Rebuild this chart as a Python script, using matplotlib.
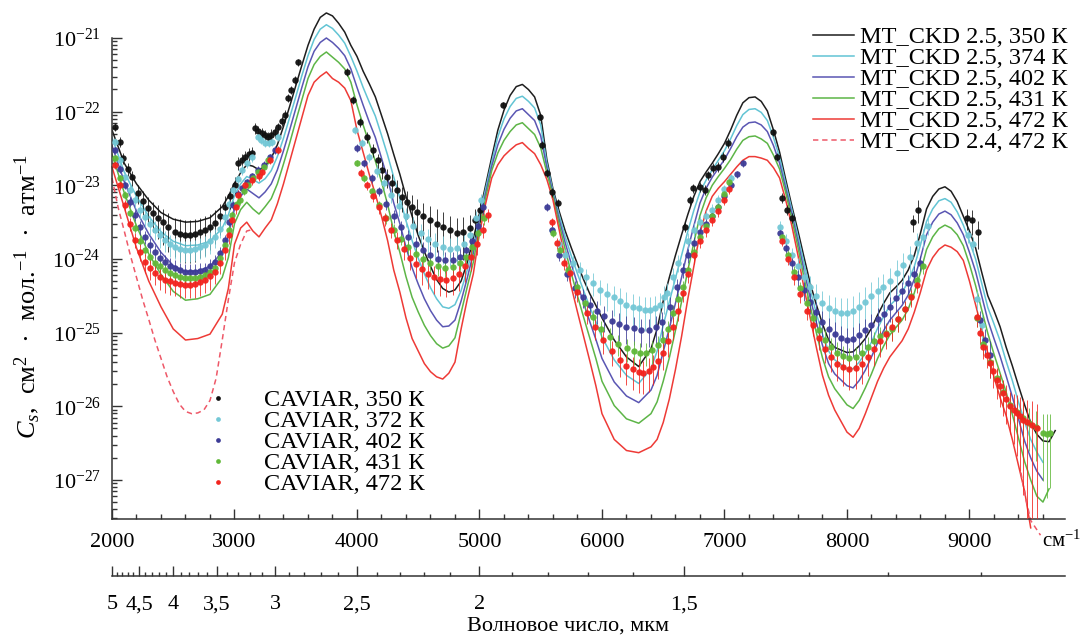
import numpy as np
import matplotlib
matplotlib.use('Agg')
import matplotlib.pyplot as plt
from matplotlib.lines import Line2D
from matplotlib.ticker import FixedLocator, FuncFormatter, NullFormatter

plt.rcParams['font.family'] = ['Liberation Serif', 'DejaVu Serif']
plt.rcParams['mathtext.fontset'] = 'custom'
plt.rcParams['mathtext.rm'] = 'Liberation Serif'
plt.rcParams['mathtext.it'] = 'Liberation Serif:italic'
plt.rcParams['mathtext.bf'] = 'Liberation Serif:bold'

nan = np.nan

# ---- модельные кривые MT_CKD (log10 C_s) ----
nu_mt = [2000, 2100, 2200, 2300, 2400, 2500, 2600, 2700, 2800, 2900,
         2950, 3000, 3050, 3100, 3150, 3200, 3250, 3300, 3350, 3400,
         3450, 3500, 3550, 3600, 3650, 3700, 3750, 3800, 3850, 3900,
         3950, 4000, 4050, 4100, 4150, 4200, 4250, 4300, 4350, 4400,
         4450, 4500, 4550, 4600, 4650, 4700, 4750, 4800, 4850, 4900,
         4950, 5000, 5050, 5100, 5150, 5200, 5250, 5300, 5350, 5400,
         5450, 5500, 5550, 5600, 5650, 5700, 5750, 5800, 5850, 5900,
         5950, 6000, 6100, 6200, 6300, 6400, 6450, 6500, 6550, 6600,
         6650, 6700, 6750, 6800, 6850, 6900, 6950, 7000, 7050, 7100,
         7150, 7200, 7250, 7300, 7350, 7400, 7450, 7500, 7550, 7600,
         7650, 7700, 7750, 7800, 7850, 7900, 8000, 8050, 8100, 8150,
         8200, 8250, 8300, 8350, 8400, 8450, 8500, 8550, 8600, 8650,
         8700, 8750, 8800, 8850, 8900, 8950, 9000, 9050, 9100, 9150,
         9200, 9250, 9300, 9350, 9400, 9450, 9500, 9550, 9600, 9650,
         9700]

ckd350 = [-22.25, -22.70, -22.98, -23.20, -23.37, -23.46, -23.50, -23.49, -23.44, -23.29,
          -23.15, -22.97, -22.83, -22.72, -22.74, -22.79, -22.74, -22.63, -22.45, -22.20,
          -21.93, -21.65, -21.37, -21.10, -20.88, -20.72, -20.66, -20.70, -20.80, -20.92,
          -21.10, -21.25, -21.45, -21.62, -21.80, -22.05, -22.30, -22.58, -22.85, -23.15,
          -23.42, -23.68, -23.90, -24.10, -24.28, -24.40, -24.45, -24.42, -24.30, -24.05,
          -23.72, -23.38, -23.00, -22.62, -22.25, -21.98, -21.78, -21.66, -21.63, -21.70,
          -21.80, -22.05, -22.65, -23.05, -23.35, -23.62, -23.85, -24.07, -24.28, -24.47,
          -24.63, -24.80, -25.10, -25.33, -25.46, -25.22, -24.95, -24.57, -24.25, -23.95,
          -23.67, -23.40, -23.15, -22.95, -22.82, -22.70, -22.57, -22.43, -22.25, -22.05,
          -21.88, -21.81, -21.80, -21.86, -21.99, -22.25, -22.55, -22.92, -23.28, -23.62,
          -23.98, -24.33, -24.62, -24.88, -25.10, -25.20, -25.27, -25.26, -25.18, -25.08,
          -24.94, -24.76, -24.60, -24.46, -24.38, -24.29, -24.15, -23.95, -23.65, -23.32,
          -23.15, -23.05, -23.02, -23.08, -23.22, -23.42, -23.62, -23.85, -24.18, -24.50,
          -24.70, -24.92, -25.20, -25.45, -25.72, -25.98, -26.22, -26.38, -26.47, -26.48,
          -26.33]

ckd374 = [-22.35, -22.82, -23.15, -23.42, -23.63, -23.76, -23.82, -23.81, -23.76, -23.58,
          -23.40, -23.14, -22.98, -22.88, -22.92, -22.97, -22.91, -22.80, -22.61, -22.36,
          -22.08, -21.80, -21.51, -21.24, -21.02, -20.88, -20.82, -20.87, -20.96, -21.07,
          -21.25, -21.45, -21.67, -21.87, -22.06, -22.32, -22.59, -22.89, -23.17, -23.48,
          -23.75, -23.99, -24.20, -24.39, -24.54, -24.65, -24.67, -24.62, -24.43, -24.15,
          -23.82, -23.43, -23.05, -22.68, -22.34, -22.10, -21.93, -21.82, -21.79, -21.86,
          -21.95, -22.18, -22.70, -23.08, -23.40, -23.70, -23.96, -24.20, -24.43, -24.65,
          -24.85, -25.06, -25.37, -25.58, -25.69, -25.49, -25.25, -24.90, -24.58, -24.26,
          -23.95, -23.63, -23.34, -23.09, -22.93, -22.79, -22.66, -22.53, -22.37, -22.19,
          -22.04, -21.97, -21.96, -22.01, -22.12, -22.35, -22.62, -22.98, -23.33, -23.69,
          -24.06, -24.42, -24.74, -25.02, -25.25, -25.37, -25.49, -25.49, -25.40, -25.28,
          -25.13, -24.94, -24.78, -24.63, -24.55, -24.45, -24.31, -24.10, -23.81, -23.49,
          -23.32, -23.21, -23.18, -23.23, -23.36, -23.54, -23.76, -24.00, -24.33, -24.66,
          -24.88, -25.11, -25.39, -25.65, -25.94, -26.21, -26.45, -26.62, -26.76, nan,
          nan]

ckd402 = [-22.46, -22.95, -23.35, -23.66, -23.91, -24.09, -24.17, -24.16, -24.10, -23.90,
          -23.68, -23.32, -23.15, -23.05, -23.11, -23.17, -23.09, -22.98, -22.79, -22.53,
          -22.25, -21.96, -21.67, -21.39, -21.18, -21.06, -21.00, -21.06, -21.14, -21.24,
          -21.42, -21.67, -21.91, -22.14, -22.35, -22.63, -22.91, -23.24, -23.52, -23.84,
          -24.12, -24.34, -24.54, -24.70, -24.83, -24.92, -24.91, -24.83, -24.57, -24.26,
          -23.92, -23.49, -23.11, -22.74, -22.45, -22.24, -22.09, -21.99, -21.96, -22.04,
          -22.12, -22.33, -22.76, -23.11, -23.46, -23.78, -24.07, -24.34, -24.60, -24.85,
          -25.09, -25.35, -25.67, -25.86, -25.95, -25.78, -25.58, -25.26, -24.94, -24.60,
          -24.25, -23.88, -23.55, -23.24, -23.04, -22.89, -22.77, -22.65, -22.50, -22.34,
          -22.21, -22.15, -22.14, -22.18, -22.27, -22.46, -22.70, -23.04, -23.39, -23.76,
          -24.16, -24.53, -24.86, -25.17, -25.42, -25.56, -25.72, -25.75, -25.65, -25.51,
          -25.33, -25.14, -24.97, -24.83, -24.73, -24.63, -24.49, -24.27, -23.99, -23.67,
          -23.50, -23.39, -23.35, -23.40, -23.51, -23.67, -23.91, -24.17, -24.50, -24.83,
          -25.08, -25.32, -25.59, -25.87, -26.17, -26.47, -26.70, -26.88, -27.00, nan,
          nan]

ckd431 = [-22.58, -23.10, -23.55, -23.93, -24.21, -24.44, -24.56, -24.54, -24.48, -24.25,
          -23.98, -23.52, -23.33, -23.23, -23.32, -23.39, -23.29, -23.18, -22.98, -22.71,
          -22.43, -22.13, -21.84, -21.55, -21.36, -21.25, -21.19, -21.26, -21.33, -21.42,
          -21.60, -21.91, -22.18, -22.43, -22.67, -22.95, -23.26, -23.62, -23.91, -24.24,
          -24.52, -24.72, -24.90, -25.04, -25.15, -25.21, -25.18, -25.07, -24.73, -24.38,
          -24.04, -23.56, -23.17, -22.80, -22.56, -22.39, -22.27, -22.18, -22.15, -22.23,
          -22.31, -22.49, -22.83, -23.15, -23.52, -23.87, -24.20, -24.50, -24.79, -25.07,
          -25.35, -25.66, -25.99, -26.17, -26.23, -26.10, -25.94, -25.66, -25.34, -24.97,
          -24.58, -24.16, -23.78, -23.41, -23.17, -23.00, -22.88, -22.77, -22.65, -22.51,
          -22.39, -22.34, -22.33, -22.37, -22.43, -22.59, -22.78, -23.10, -23.46, -23.84,
          -24.26, -24.64, -25.00, -25.34, -25.60, -25.76, -25.98, -26.03, -25.92, -25.75,
          -25.56, -25.35, -25.18, -25.03, -24.93, -24.83, -24.68, -24.46, -24.18, -23.87,
          -23.70, -23.59, -23.54, -23.58, -23.67, -23.82, -24.07, -24.36, -24.69, -25.01,
          -25.29, -25.55, -25.81, -26.11, -26.43, -26.75, -27.00, -27.22, -27.30, -27.12,
          nan]

ckd472 = [-22.75, -23.30, -23.85, -24.30, -24.65, -24.95, -25.10, -25.08, -25.02, -24.75,
          -24.40, -23.80, -23.58, -23.50, -23.62, -23.70, -23.58, -23.47, -23.25, -22.98,
          -22.68, -22.38, -22.08, -21.78, -21.60, -21.52, -21.46, -21.55, -21.60, -21.68,
          -21.85, -22.25, -22.55, -22.85, -23.12, -23.42, -23.75, -24.15, -24.45, -24.80,
          -25.08, -25.25, -25.42, -25.53, -25.60, -25.63, -25.55, -25.40, -24.95, -24.55,
          -24.20, -23.65, -23.25, -22.90, -22.72, -22.60, -22.52, -22.45, -22.42, -22.50,
          -22.57, -22.72, -22.92, -23.20, -23.60, -24.00, -24.38, -24.72, -25.05, -25.38,
          -25.72, -26.10, -26.45, -26.60, -26.63, -26.55, -26.45, -26.22, -25.90, -25.50,
          -25.05, -24.55, -24.10, -23.65, -23.35, -23.15, -23.04, -22.95, -22.85, -22.75,
          -22.66, -22.61, -22.61, -22.63, -22.66, -22.76, -22.90, -23.20, -23.55, -23.95,
          -24.40, -24.80, -25.20, -25.58, -25.85, -26.05, -26.35, -26.42, -26.30, -26.10,
          -25.88, -25.66, -25.48, -25.33, -25.22, -25.11, -24.95, -24.72, -24.45, -24.15,
          -23.98, -23.87, -23.81, -23.84, -23.90, -24.02, -24.30, -24.62, -24.95, -25.28,
          -25.60, -25.88, -26.13, -26.45, -26.80, -27.15, -27.65, nan, nan, nan,
          nan]

nu_ckd24 = [2000, 2050, 2100, 2150, 2200, 2250, 2300, 2350, 2400, 2450, 2500, 2550,
            2600, 2650, 2700, 2750, 2800, 2850, 2900, 2950, 3000, 3050, 3100, 3150,
            nan, 9420, 9460, 9500, 9580]
ckd24_472 = [-22.90, -23.30, -23.62, -23.95, -24.25, -24.55, -24.82, -25.10, -25.35, -25.60,
             -25.80, -25.97, -26.07, -26.10, -26.09, -26.05, -25.92, -25.62, -25.10, -24.55,
             -24.05, -23.80, -23.62, -23.60, nan, -26.90, -27.25, -27.55, -27.75]

ckd_temps = [350, 374, 402, 431, 472]

# ---- измерения CAVIAR: волновое число, log10 C_s, полуширина ошибки вверх (в декадах) ----
cav350_nu = ([2024, 2065, 2090, 2130, 2163, 2212, 2250, 2294, 2335, 2376,
              2415, 2457, 2514, 2555, 2596, 2637, 2678, 2720, 2759, 2800,
              2841, 2880, 2922, 2960, 3004, 3029, 3060, 3086, 3115, 3143,
              3167, 3195, 3224, 3250, 3273, 3300, 3330, 3355, 3385, 3412,
              3437, 3465, 3494, 3518]
             + [3918, 3967, 4024, 4082, 4131, 4171, 4204, 4245, 4286, 4327,
                4367, 4408, 4449, 4490, 4539, 4596, 4653, 4702, 4759, 4816,
                4865, 4922, 4963, 5004]
             + [5192, 5494, 5510, 5551, 5592, 5641]
             + [6677, 6718, 6743, 6800, 6841, 6865, 6906, 6947, 6988, 7029,
                7396, 7429, 7469, 7510, 7551]
             + [8539, 8580, 8980, 9020, 9069])
cav350_lg = ([-22.21, -22.41, -22.63, -22.78, -22.89, -23.10, -23.21, -23.31, -23.38, -23.44,
              -23.50, -23.56, -23.63, -23.66, -23.67, -23.67, -23.66, -23.64, -23.61, -23.57,
              -23.51, -23.42, -23.29, -23.15, -22.99, -22.70, -22.65, -22.61, -22.58, -22.56,
              -22.22, -22.26, -22.29, -22.32, -22.34, -22.31, -22.28, -22.21, -22.12, -22.04,
              -21.81, -21.70, -21.57, -21.33]
             + [-21.46, -21.84, -22.14, -22.34, -22.52, -22.66, -22.79, -22.89, -22.97, -23.06,
                -23.16, -23.23, -23.29, -23.36, -23.42, -23.47, -23.52, -23.56, -23.61, -23.65,
                -23.63, -23.58, -23.47, -23.33]
             + [-21.91, -22.07, -22.45, -22.83, -23.09, -23.24]
             + [-23.56, -23.20, -23.04, -23.02, -23.06, -22.86, -22.76, -22.75, -22.61, -22.42,
                -22.28, -22.61, -23.17, -23.33, -23.44]
             + [-23.50, -23.33, -23.44, -23.47, -23.63])
cav350_err = ([0.05, 0.06, 0.07, 0.08, 0.09, 0.11, 0.13, 0.15, 0.16, 0.17,
               0.18, 0.19, 0.19, 0.20, 0.20, 0.20, 0.20, 0.19, 0.19, 0.18,
               0.17, 0.16, 0.14, 0.12, 0.10, 0.08, 0.08, 0.08, 0.08, 0.08,
               0.07, 0.07, 0.07, 0.07, 0.07, 0.07, 0.07, 0.06, 0.06, 0.06,
               0.05, 0.05, 0.05, 0.05]
              + [0.05, 0.05, 0.06, 0.07, 0.08, 0.09, 0.10, 0.11, 0.12, 0.13,
                 0.14, 0.15, 0.16, 0.17, 0.18, 0.19, 0.20, 0.20, 0.20, 0.20,
                 0.20, 0.18, 0.15, 0.12]
              + [0.04, 0.04, 0.05, 0.05, 0.06, 0.06]
              + [0.06, 0.06, 0.06, 0.06, 0.06, 0.06, 0.06, 0.06, 0.06, 0.06,
                 0.05, 0.05, 0.06, 0.06, 0.06]
              + [0.10, 0.13, 0.12, 0.14, 0.15])

cav372_nu = ([2024, 2065, 2106, 2147, 2188, 2229, 2269, 2310, 2351, 2392,
              2433, 2473, 2514, 2555, 2596, 2637, 2678, 2718, 2759, 2800,
              2841, 2882, 2922, 2955, 2988, 3025, 3061, 3102, 3143, 3192,
              3220, 3249, 3278, 3306, 3355]
             + [3980, 4040, 4100, 4160, 4220, 4280, 4340, 4400, 4460, 4520,
                4580, 4640, 4700, 4760, 4820, 4870, 4920, 4970, 5010]
             + [5592, 5650, 5700, 5760, 5820, 5870, 5926, 5983, 6041, 6100,
                6150, 6200, 6253, 6300, 6350, 6392, 6435, 6473, 6510, 6531,
                6580, 6620]
             + [6700, 6750, 6800, 6850, 6900, 6950, 7000, 7050]
             + [7453, 7500, 7550, 7600, 7650, 7700, 7750, 7800, 7850, 7900,
                7950, 8000, 8050, 8100, 8150, 8200, 8250, 8294, 8350, 8408,
                8460, 8514, 8571, 8620, 8660]
             + [8985, 9030, 9060, 9100])
cav372_lg = ([-22.41, -22.66, -22.89, -23.06, -23.20, -23.33, -23.43, -23.52, -23.60, -23.68,
              -23.74, -23.80, -23.84, -23.87, -23.88, -23.88, -23.86, -23.84, -23.81, -23.76,
              -23.70, -23.59, -23.43, -23.25, -23.06, -22.92, -22.79, -22.70, -22.61, -22.34,
              -22.38, -22.42, -22.42, -22.41, -22.34]
             + [-22.25, -22.42, -22.62, -22.80, -22.97, -23.13, -23.28, -23.42, -23.55, -23.65,
                -23.73, -23.80, -23.84, -23.86, -23.85, -23.80, -23.68, -23.45, -23.20]
             + [-23.60, -23.80, -23.95, -24.05, -24.15, -24.25, -24.32, -24.42, -24.47, -24.52,
                -24.57, -24.62, -24.65, -24.67, -24.69, -24.69, -24.67, -24.62, -24.52, -24.46,
                -24.24, -24.05]
             + [-23.75, -23.60, -23.50, -23.42, -23.33, -23.20, -23.05, -22.90]
             + [-23.56, -23.75, -23.95, -24.10, -24.25, -24.38, -24.50, -24.60, -24.67, -24.70,
                -24.73, -24.73, -24.70, -24.65, -24.58, -24.50, -24.44, -24.38, -24.30, -24.19,
                -24.08, -23.97, -23.78, -23.70, -23.55]
             + [-23.68, -23.80, -24.55, -24.90])
cav372_err = ([0.05, 0.06, 0.07, 0.08, 0.09, 0.10, 0.10, 0.11, 0.11, 0.12,
               0.12, 0.12, 0.12, 0.12, 0.12, 0.12, 0.12, 0.12, 0.12, 0.12,
               0.11, 0.10, 0.09, 0.08, 0.07, 0.06, 0.06, 0.06, 0.06, 0.05,
               0.05, 0.05, 0.05, 0.05, 0.05]
              + [0.05, 0.05, 0.06, 0.07, 0.08, 0.09, 0.10, 0.11, 0.12, 0.13,
                 0.14, 0.15, 0.15, 0.15, 0.15, 0.15, 0.13, 0.10, 0.08]
              + [0.06, 0.07, 0.08, 0.10, 0.11, 0.12, 0.13, 0.14, 0.15, 0.16,
                 0.17, 0.17, 0.17, 0.17, 0.17, 0.17, 0.17, 0.16, 0.15, 0.14,
                 0.12, 0.10]
              + [0.10, 0.09, 0.08, 0.08, 0.07, 0.07, 0.06, 0.06]
              + [0.08, 0.09, 0.10, 0.12, 0.13, 0.15, 0.16, 0.17, 0.18, 0.19,
                 0.20, 0.20, 0.20, 0.20, 0.20, 0.19, 0.19, 0.18, 0.18, 0.17,
                 0.16, 0.15, 0.13, 0.11, 0.10]
              + [0.08, 0.10, 0.12, 0.15])

cav402_nu = ([2024, 2065, 2106, 2147, 2188, 2229, 2269, 2310, 2351, 2392,
              2433, 2473, 2514, 2555, 2596, 2637, 2678, 2718, 2759, 2800,
              2841, 2882, 2922, 2955, 2988, 3025, 3061, 3102, 3143, 3192,
              3240, 3290, 3330]
             + [4000, 4060, 4120, 4180, 4240, 4300, 4360, 4420, 4480, 4540,
                4600, 4660, 4720, 4780, 4840, 4890, 4940, 4990, 5030]
             + [5551, 5592, 5650, 5714, 5780, 5845, 5900, 5960, 6020, 6080,
                6140, 6200, 6260, 6320, 6380, 6440, 6490, 6555, 6612, 6661]
             + [6700, 6750, 6800, 6850, 6900, 6950, 7000, 7050, 7100, 7150]
             + [7450, 7500, 7550, 7600, 7650, 7700, 7750, 7800, 7850, 7900,
                7950, 8000, 8050, 8100, 8150, 8200, 8250, 8300, 8350, 8400,
                8450, 8500, 8550, 8600]
             + [9090, 9130, 9170])
cav402_lg = ([-22.52, -22.78, -23.00, -23.22, -23.40, -23.57, -23.70, -23.81, -23.90, -23.98,
              -24.04, -24.09, -24.12, -24.15, -24.17, -24.17, -24.17, -24.16, -24.15, -24.10,
              -24.04, -23.92, -23.74, -23.50, -23.27, -23.12, -23.04, -22.96, -22.88, -22.79,
              -22.72, -22.62, -22.52]
             + [-22.49, -22.70, -22.90, -23.08, -23.25, -23.42, -23.57, -23.70, -23.80, -23.88,
                -23.95, -24.00, -24.02, -24.02, -23.97, -23.88, -23.75, -23.55, -23.30]
             + [-23.29, -23.60, -23.95, -24.20, -24.40, -24.52, -24.62, -24.70, -24.78, -24.84,
                -24.88, -24.92, -24.94, -24.96, -24.96, -24.93, -24.86, -24.65, -24.38, -24.15]
             + [-23.95, -23.78, -23.63, -23.52, -23.42, -23.30, -23.15, -23.00, -22.85, -22.70]
             + [-23.65, -23.85, -24.05, -24.25, -24.42, -24.58, -24.72, -24.85, -24.95, -25.02,
                -25.07, -25.10, -25.08, -25.03, -24.97, -24.90, -24.82, -24.75, -24.65, -24.53,
                -24.43, -24.33, -24.20, -24.05]
             + [-24.83, -25.10, -25.30])
cav402_err = ([0.04, 0.05, 0.05, 0.06, 0.07, 0.08, 0.08, 0.09, 0.09, 0.10,
               0.10, 0.10, 0.10, 0.10, 0.10, 0.10, 0.10, 0.10, 0.10, 0.10,
               0.09, 0.08, 0.07, 0.06, 0.06, 0.05, 0.05, 0.05, 0.05, 0.05,
               0.05, 0.05, 0.05]
              + [0.05, 0.05, 0.06, 0.06, 0.07, 0.08, 0.09, 0.10, 0.10, 0.11,
                 0.12, 0.12, 0.12, 0.12, 0.12, 0.11, 0.10, 0.08, 0.07]
              + [0.05, 0.06, 0.07, 0.08, 0.10, 0.11, 0.12, 0.13, 0.14, 0.15,
                 0.15, 0.15, 0.15, 0.15, 0.15, 0.15, 0.14, 0.13, 0.11, 0.09]
              + [0.08, 0.08, 0.07, 0.07, 0.06, 0.06, 0.06, 0.05, 0.05, 0.05]
              + [0.06, 0.07, 0.08, 0.10, 0.11, 0.12, 0.13, 0.14, 0.15, 0.16,
                 0.16, 0.16, 0.16, 0.16, 0.16, 0.15, 0.15, 0.14, 0.14, 0.13,
                 0.12, 0.11, 0.10, 0.09]
              + [0.12, 0.15, 0.18])

cav431_nu = ([2024, 2065, 2106, 2147, 2188, 2229, 2269, 2310, 2351, 2392,
              2433, 2473, 2514, 2555, 2596, 2637, 2678, 2718, 2759, 2800,
              2841, 2882, 2922, 2955, 2980, 3020, 3045, 3080, 3110, 3150,
              3192, 3240, 3270]
             + [4000, 4060, 4120, 4180, 4240, 4300, 4360, 4420, 4480, 4540,
                4600, 4660, 4720, 4780, 4840, 4890, 4940, 4990, 5040]
             + [5600, 5657, 5720, 5796, 5860, 5926, 5990, 6065, 6130, 6204,
                6260, 6310, 6360, 6410, 6460, 6498, 6540, 6580, 6620, 6661]
             + [6700, 6750, 6800, 6850, 6900, 6950, 7000, 7040]
             + [7470, 7520, 7570, 7620, 7670, 7720, 7770, 7820, 7870, 7920,
                7970, 8020, 8070, 8120, 8170, 8220, 8270, 8320, 8370, 8420,
                8470, 8520, 8571, 8620]
             + [9061, 9110, 9167, 9224, 9273, 9330, 9388, 9437, 9490, 9540,
                9600, 9630, 9657])
cav431_lg = ([-22.63, -22.90, -23.13, -23.37, -23.58, -23.75, -23.88, -23.97, -24.05, -24.10,
              -24.15, -24.19, -24.22, -24.24, -24.26, -24.26, -24.26, -24.24, -24.22, -24.18,
              -24.12, -23.99, -23.81, -23.60, -23.40, -23.25, -23.20, -23.08, -22.99, -22.90,
              -22.82, -22.75, -22.66]
             + [-22.70, -22.90, -23.08, -23.27, -23.45, -23.60, -23.73, -23.84, -23.93, -24.00,
                -24.06, -24.10, -24.12, -24.11, -24.06, -23.97, -23.84, -23.65, -23.45]
             + [-23.65, -23.88, -24.15, -24.38, -24.60, -24.79, -24.95, -25.06, -25.15, -25.21,
                -25.25, -25.27, -25.27, -25.24, -25.17, -25.10, -24.95, -24.73, -24.55, -24.38]
             + [-24.15, -23.90, -23.70, -23.55, -23.42, -23.30, -23.12, -22.95]
             + [-23.70, -23.95, -24.18, -24.40, -24.60, -24.80, -24.97, -25.10, -25.20, -25.27,
                -25.32, -25.35, -25.33, -25.28, -25.20, -25.12, -25.05, -25.00, -24.95, -24.82,
                -24.68, -24.50, -24.28, -24.10]
             + [-24.80, -25.15, -25.40, -25.62, -25.80, -25.98, -26.08, -26.16, -26.22, -26.28,
                -26.36, -26.38, -26.36])
cav431_err = ([0.04, 0.04, 0.05, 0.05, 0.06, 0.06, 0.07, 0.07, 0.07, 0.08,
               0.08, 0.08, 0.08, 0.08, 0.08, 0.08, 0.08, 0.08, 0.08, 0.08,
               0.07, 0.07, 0.06, 0.06, 0.05, 0.05, 0.05, 0.05, 0.05, 0.05,
               0.05, 0.05, 0.05]
              + [0.04, 0.05, 0.05, 0.06, 0.06, 0.07, 0.07, 0.08, 0.08, 0.09,
                 0.09, 0.10, 0.10, 0.10, 0.10, 0.10, 0.09, 0.08, 0.07]
              + [0.05, 0.06, 0.07, 0.08, 0.09, 0.10, 0.11, 0.12, 0.12, 0.13,
                 0.13, 0.13, 0.13, 0.13, 0.13, 0.12, 0.11, 0.10, 0.09, 0.08]
              + [0.08, 0.08, 0.07, 0.07, 0.06, 0.06, 0.06, 0.05]
              + [0.06, 0.07, 0.08, 0.09, 0.10, 0.11, 0.12, 0.13, 0.13, 0.14,
                 0.14, 0.14, 0.14, 0.14, 0.14, 0.13, 0.13, 0.13, 0.12, 0.12,
                 0.11, 0.10, 0.09, 0.08]
              + [0.10, 0.11, 0.12, 0.13, 0.14, 0.16, 0.17, 0.19, 0.20, 0.22,
                 0.25, 0.27, 0.26])

cav472_nu = ([2024, 2065, 2106, 2147, 2188, 2229, 2269, 2310, 2351, 2392,
              2433, 2473, 2514, 2555, 2596, 2637, 2678, 2718, 2759, 2800,
              2841, 2882, 2922, 2955, 2980, 3010, 3029, 3086, 3143, 3200,
              3224, 3290, 3355]
             + [4030, 4080, 4130, 4180, 4230, 4280, 4330, 4380, 4430, 4480,
                4530, 4580, 4630, 4680, 4730, 4780, 4830, 4880, 4930, 4980,
                5030, 5070]
             + [5590, 5633, 5690, 5739, 5800, 5878, 5940, 6008, 6080, 6147,
                6200, 6253, 6300, 6335, 6380, 6416, 6460, 6498, 6540, 6580,
                6620, 6661]
             + [6700, 6750, 6800, 6850, 6900, 6950, 7000, 7040]
             + [7470, 7520, 7570, 7620, 7670, 7720, 7770, 7820, 7870, 7920,
                7970, 8020, 8070, 8120, 8170, 8220, 8270, 8320, 8370, 8420,
                8470, 8520, 8570]
             + [9061, 9085, 9110, 9140, 9167, 9195, 9224, 9250, 9273, 9300,
                9330, 9360, 9388, 9410, 9437, 9470, 9510, 9551])
cav472_lg = ([-22.72, -23.00, -23.27, -23.52, -23.74, -23.90, -24.04, -24.12, -24.19, -24.24,
              -24.28, -24.30, -24.32, -24.34, -24.35, -24.35, -24.34, -24.31, -24.28, -24.23,
              -24.17, -24.05, -23.88, -23.68, -23.47, -23.30, -23.13, -22.99, -22.93, -22.87,
              -22.82, -22.66, -22.52]
             + [-22.83, -23.00, -23.15, -23.30, -23.45, -23.60, -23.74, -23.87, -23.98, -24.07,
                -24.14, -24.20, -24.24, -24.27, -24.28, -24.26, -24.20, -24.10, -23.97, -23.80,
                -23.60, -23.40]
             + [-23.50, -23.78, -24.05, -24.19, -24.45, -24.73, -24.93, -25.10, -25.25, -25.37,
                -25.45, -25.50, -25.53, -25.55, -25.52, -25.46, -25.38, -25.27, -25.12, -24.92,
                -24.70, -24.46]
             + [-24.20, -23.95, -23.75, -23.60, -23.47, -23.35, -23.20, -23.05]
             + [-23.75, -24.00, -24.25, -24.48, -24.70, -24.90, -25.07, -25.22, -25.33, -25.42,
                -25.47, -25.50, -25.48, -25.42, -25.33, -25.22, -25.12, -25.02, -24.93, -24.82,
                -24.68, -24.52, -24.35]
             + [-24.79, -25.00, -25.19, -25.30, -25.41, -25.52, -25.64, -25.73, -25.82, -25.90,
                -26.00, -26.05, -26.09, -26.13, -26.18, -26.21, -26.25, -26.29])
cav472_err = ([0.05, 0.06, 0.07, 0.08, 0.09, 0.10, 0.11, 0.12, 0.12, 0.13,
               0.13, 0.13, 0.13, 0.13, 0.13, 0.13, 0.13, 0.13, 0.13, 0.13,
               0.12, 0.11, 0.10, 0.09, 0.08, 0.07, 0.06, 0.06, 0.06, 0.06,
               0.05, 0.05, 0.05]
              + [0.05, 0.06, 0.06, 0.07, 0.08, 0.09, 0.10, 0.11, 0.12, 0.13,
                 0.14, 0.14, 0.15, 0.15, 0.15, 0.15, 0.15, 0.14, 0.13, 0.11,
                 0.09, 0.08]
              + [0.06, 0.07, 0.08, 0.09, 0.10, 0.11, 0.12, 0.13, 0.14, 0.15,
                 0.16, 0.17, 0.17, 0.17, 0.17, 0.16, 0.16, 0.15, 0.14, 0.13,
                 0.11, 0.10]
              + [0.10, 0.09, 0.08, 0.08, 0.07, 0.07, 0.06, 0.06]
              + [0.06, 0.07, 0.08, 0.09, 0.10, 0.11, 0.12, 0.13, 0.14, 0.15,
                 0.16, 0.17, 0.17, 0.17, 0.16, 0.15, 0.14, 0.14, 0.13, 0.12,
                 0.11, 0.10, 0.09]
              + [0.10, 0.11, 0.12, 0.13, 0.14, 0.15, 0.16, 0.17, 0.18, 0.19,
                 0.20, 0.22, 0.24, 0.26, 0.28, 0.30, 0.32, 0.32])

cav_temps = [350, 372, 402, 431, 472]

# шкала длин волн, мкм
lam_major = [5, 4.5, 4, 3.5, 3, 2.5, 2, 1.5]
lam_major_lbl = ['5', '4,5', '4', '3,5', '3', '2,5', '2', '1,5']
lam_minor = [4.9, 4.8, 4.7, 4.6, 4.4, 4.3, 4.2, 4.1, 3.9, 3.8, 3.7, 3.6,
             3.4, 3.3, 3.2, 3.1, 2.9, 2.8, 2.7, 2.6, 2.4, 2.3, 2.2, 2.1,
             1.9, 1.8, 1.7, 1.6, 1.4, 1.3, 1.2, 1.1]

line_cols = ['#1e1e1e', '#62c4d4', '#5a56b3', '#5db547', '#ee3a36']
dash_col = '#ee5868'
pt_cols = ['#101010', '#74c8d6', '#3c3b96', '#60b838', '#f2231d']

W, H = 1086, 639
fig = plt.figure(figsize=(W / 100, H / 100), dpi=100)
ax = fig.add_axes([112 / W, (H - 519) / H, 953 / W, 519 / H])
ax.set_yscale('log')

for vals, col in zip([ckd350, ckd374, ckd402, ckd431, ckd472], line_cols):
    ax.plot(nu_mt, 10.0 ** np.array(vals), color=col, lw=1.1, zorder=2,
            clip_on=(col != line_cols[-1]))
ax.plot(nu_ckd24, 10.0 ** np.array(ckd24_472), color=dash_col, lw=1.1,
        ls=(0, (3.5, 2.5)), zorder=2, clip_on=False)

cav = [(cav350_nu, cav350_lg, cav350_err), (cav372_nu, cav372_lg, cav372_err),
       (cav402_nu, cav402_lg, cav402_err), (cav431_nu, cav431_lg, cav431_err),
       (cav472_nu, cav472_lg, cav472_err)]
for (nu, lg, er), col in zip(cav, pt_cols):
    y = 10.0 ** np.array(lg)
    sig = y * (10.0 ** np.array(er) - 1.0)
    ax.errorbar(nu, y, yerr=sig, fmt='o', ms=4.6, mew=0, color=col, ecolor=col,
                elinewidth=0.6, capsize=2, capthick=0.6, zorder=3, alpha=0.95)

ax.set_xlim(2000, 9780)
ax.set_ylim(10 ** -27.53, 10 ** -20.484)

for s in ['top', 'right']:
    ax.spines[s].set_visible(False)
for s in ['left', 'bottom']:
    ax.spines[s].set_linewidth(1.1)
    ax.spines[s].set_color('#333333')
ax.spines['left'].set_bounds(10 ** -27.53, 1e-21)

ax.xaxis.set_major_locator(FixedLocator(list(range(2000, 9001, 1000))))
ax.xaxis.set_minor_locator(FixedLocator([v for v in range(2200, 9800, 200) if v % 1000]))
ax.yaxis.set_major_locator(FixedLocator([10.0 ** e for e in range(-27, -20)]))
ax.yaxis.set_minor_locator(FixedLocator([m * 10.0 ** e for e in range(-28, -21) for m in range(2, 10)
                                         if m * 10.0 ** e > 10 ** -27.53]))
ax.yaxis.set_major_formatter(FuncFormatter(lambda v, p: r'$10^{%d}$' % int(round(np.log10(v)))))
ax.yaxis.set_minor_formatter(NullFormatter())
ax.tick_params(which='both', direction='in', color='#333333', width=1.0, labelsize=16)
ax.tick_params(which='major', length=7)
ax.tick_params(which='minor', length=3.5)
ax.tick_params(axis='x', pad=10)
ax.tick_params(axis='y', pad=8)

# нижняя шкала длин волн
ax2 = fig.add_axes([112 / W, (H - 576) / H, 953 / W, 0.0001])
ax2.set_xlim(2000, 9780)
ax2.patch.set_visible(False)
for s in ['top', 'left', 'right']:
    ax2.spines[s].set_visible(False)
ax2.spines['bottom'].set_linewidth(1.1)
ax2.spines['bottom'].set_color('#333333')
ax2.set_yticks([])
ax2.set_xticks([1e4 / l for l in lam_major])
ax2.set_xticklabels(lam_major_lbl)
ax2.set_xticks([1e4 / l for l in lam_minor], minor=True)
ax2.tick_params(which='both', direction='in', color='#333333', width=1.0, labelsize=16, pad=14)
ax2.tick_params(which='major', length=7)
ax2.tick_params(which='minor', length=3)

fig.text(568 / W, 1 - 626 / H, 'Волновое число, мкм', ha='center', va='center', fontsize=16)
fig.text(1042 / W, 1 - 541 / H, 'см$^{-1}$', ha='left', va='center', fontsize=15)
fig.text(27 / W, 1 - 297 / H, r'$C_s$,  см$^2$  ·  мол.$^{-1}$  ·  атм$^{-1}$',
         rotation=90, ha='center', va='center', fontsize=19)

h1 = [Line2D([], [], color=c, lw=1.1) for c in line_cols]
h1.append(Line2D([], [], color=dash_col, lw=1.1, ls=(0, (3.5, 2.5))))
lab1 = ['MT_CKD 2.5, %d К' % t for t in ckd_temps] + ['MT_CKD 2.4, 472 К']
fig.legend(h1, lab1, loc='upper left', bbox_to_anchor=(813 / W, 1 - 26 / H),
           frameon=False, fontsize=17.5, handlelength=1.7, handletextpad=0.25,
           labelspacing=-0.04, borderpad=0, borderaxespad=0)

h2 = [Line2D([], [], color=c, marker='o', ls='none', ms=3.4, mew=0) for c in pt_cols]
lab2 = ['CAVIAR, %d К' % t for t in cav_temps]
fig.legend(h2, lab2, loc='upper left', bbox_to_anchor=(206 / W, 1 - 389 / H),
           frameon=False, fontsize=17.5, handlelength=1.0, handletextpad=1.4,
           labelspacing=-0.04, borderpad=0, borderaxespad=0)

fig.savefig('out.png', dpi=100)
